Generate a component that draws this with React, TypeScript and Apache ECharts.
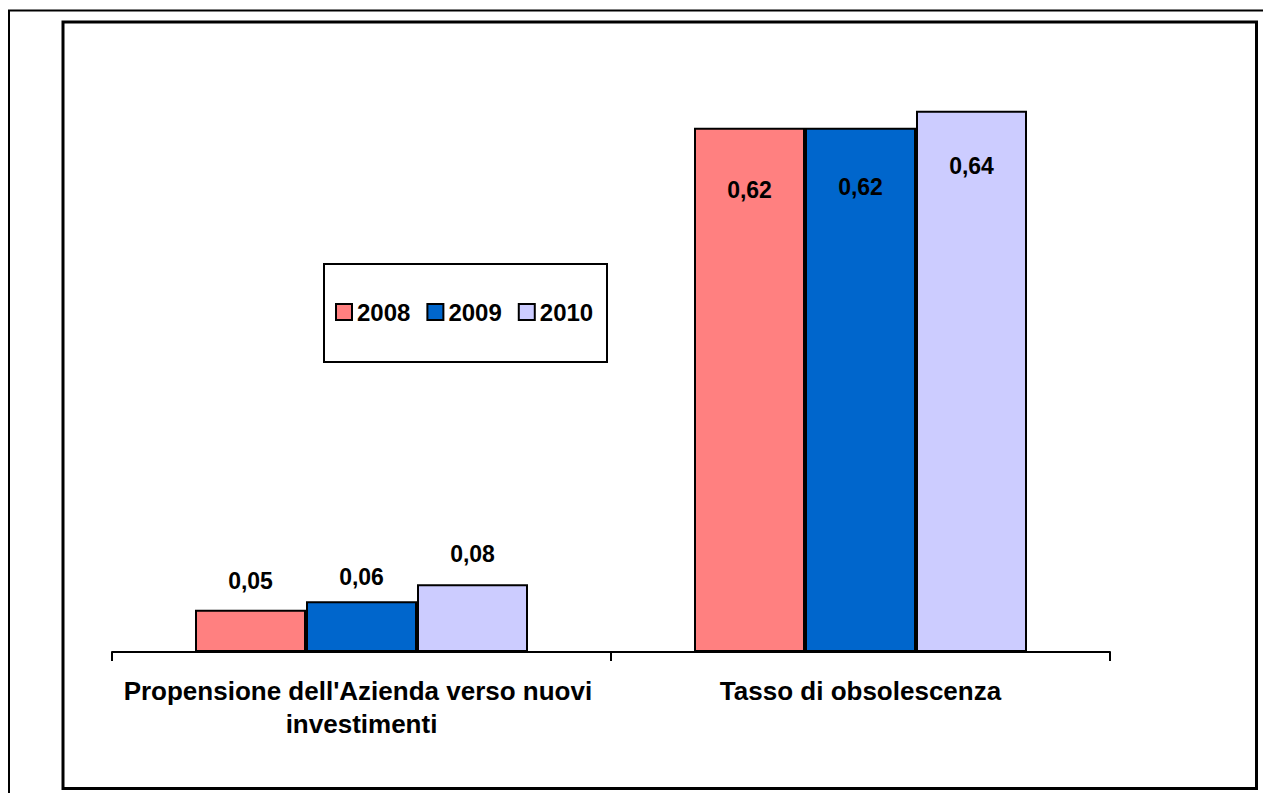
import React, { useEffect, useRef } from "react";
import * as echarts from "echarts";

const categories = ["Propensione dell'Azienda verso nuovi investimenti", "Tasso di obsolescenza"];
const years = ["2008", "2009", "2010"];
const values2008 = [0.05, 0.62];
const values2009 = [0.06, 0.62];
const values2010 = [0.08, 0.64];
const seriesValues = [values2008, values2009, values2010];
const colors = ["#FF8080", "#0066CC", "#CCCCFF"];

const FONT = "'Liberation Sans', Arial, sans-serif";
const topDist = [17, 13, 19];
const insideDist = [51, 48, 44];

export default function App() {
  const ref = useRef<HTMLDivElement>(null);
  useEffect(() => {
    if (!ref.current) return;
    const chart = echarts.init(ref.current, null, { renderer: "svg" });
    const fmt = (v: number) => v.toFixed(2).replace(".", ",");
    chart.setOption({
      animation: false,
      backgroundColor: "#ffffff",
      textStyle: { fontFamily: FONT },
      grid: { left: 112, right: 153, top: 60, bottom: 141, containLabel: false },
      legend: {
        left: 335,
        top: 300,
        padding: 0,
        itemWidth: 16,
        itemHeight: 16,
        itemGap: 16,
        icon: "rect",
        data: years,
        textStyle: { fontSize: 24, fontWeight: "bold", color: "#000", fontFamily: FONT },
      },
      xAxis: {
        type: "category",
        data: categories,
        axisLine: { lineStyle: { color: "#000", width: 2 } },
        axisTick: { show: true, length: 9, lineStyle: { color: "#000", width: 2 } },
        axisLabel: {
          interval: 0,
          margin: 22,
          fontSize: 26,
          fontWeight: "bold",
          color: "#000",
          fontFamily: FONT,
          lineHeight: 33,
          width: 490,
          overflow: "break",
        },
      },
      yAxis: { type: "value", min: 0, max: 0.7, show: false, splitLine: { show: false } },
      series: years.map((y, si) => ({
        name: y,
        type: "bar",
        barWidth: 111,
        barGap: "0%",
        itemStyle: { color: colors[si], borderColor: "#000", borderWidth: 2 },
        data: seriesValues[si].map((v, ci) => ({
          value: v,
          label: {
            show: true,
            position: ci === 0 ? "top" : "insideTop",
            distance: ci === 0 ? topDist[si] : insideDist[si],
            formatter: () => fmt(v),
            fontSize: 23,
            fontWeight: "bold",
            color: "#000",
            fontFamily: FONT,
          },
        })),
      })),
      graphic: [
        {
          type: "rect",
          shape: { x: 9, y: 10.5, width: 1400, height: 900 },
          style: { fill: "none", stroke: "#000", lineWidth: 2 },
          silent: true,
        },
        {
          type: "rect",
          shape: { x: 63, y: 22, width: 1193.5, height: 766.5 },
          style: { fill: "none", stroke: "#000", lineWidth: 3 },
          silent: true,
        },
        {
          type: "rect",
          shape: { x: 324, y: 264, width: 283, height: 98 },
          style: { fill: "none", stroke: "#000", lineWidth: 2 },
          silent: true,
        },
      ],
    });
    return () => chart.dispose();
  }, []);
  return (
    <div
      ref={ref}
      style={{ position: "fixed", left: 0, top: 0, width: 1263, height: 793, background: "#fff" }}
    />
  );
}
